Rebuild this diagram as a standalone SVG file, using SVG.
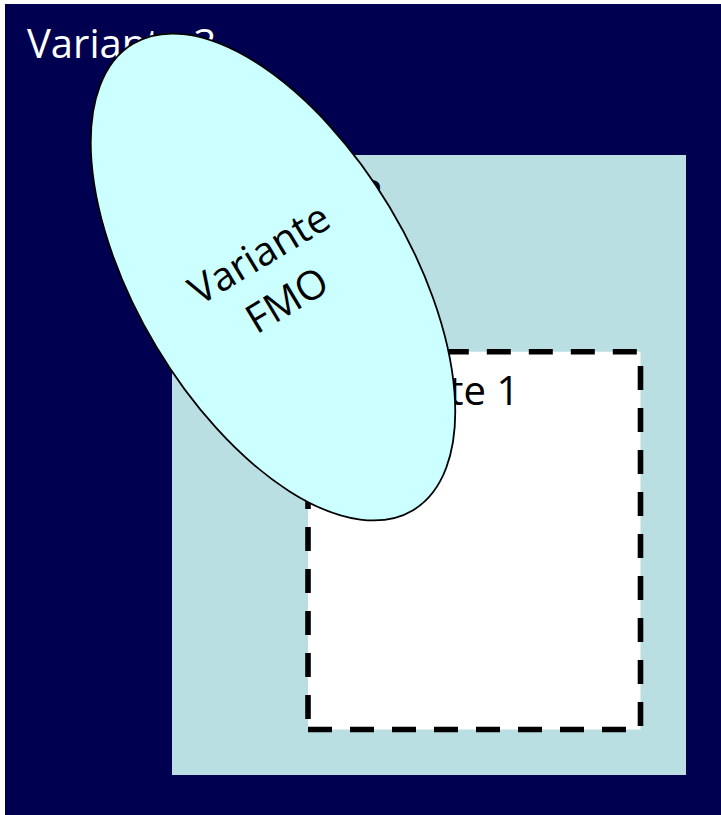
<svg xmlns="http://www.w3.org/2000/svg" width="721" height="815" viewBox="0 0 721 815">
  <style>
    .lbl { font-family: "Open Sans", "Noto Sans", "Liberation Sans", sans-serif; font-size: 40px; }
    .white { fill: #FFFFFF; }
    .dark { fill: #000000; }
  </style>
  <rect width="721" height="815" fill="#FFFFFF"/>
  <g id="variante3">
    <rect x="5" y="4" width="716" height="811" fill="#000050"/>
    <text class="lbl white" x="27" y="58">Variante 3</text>
  </g>
  <g id="variante2">
    <rect x="172" y="155" width="514" height="620" fill="#BADFE2"/>
    <text class="lbl dark" x="194" y="209">Variante 2</text>
  </g>
  <g id="variante1">
    <path d="M308 729.5 H640.5 V351.7 H308 Z" fill="#FFFFFF" stroke="#000000" stroke-width="5.6" stroke-dasharray="24 18"/>
    <text class="lbl dark" x="330" y="405">Variante 1</text>
  </g>
  <g id="connectors"></g>
  <g id="variante-fmo" transform="translate(273 277) rotate(-31)">
    <ellipse cx="0" cy="0" rx="136" ry="272" fill="#CCFFFF" stroke="#000000" stroke-width="1.8"/>
    <text class="lbl dark" text-anchor="middle" x="0" y="-13">Variante</text>
    <text class="lbl dark" text-anchor="middle" x="0" y="41">FMO</text>
  </g>
</svg>
